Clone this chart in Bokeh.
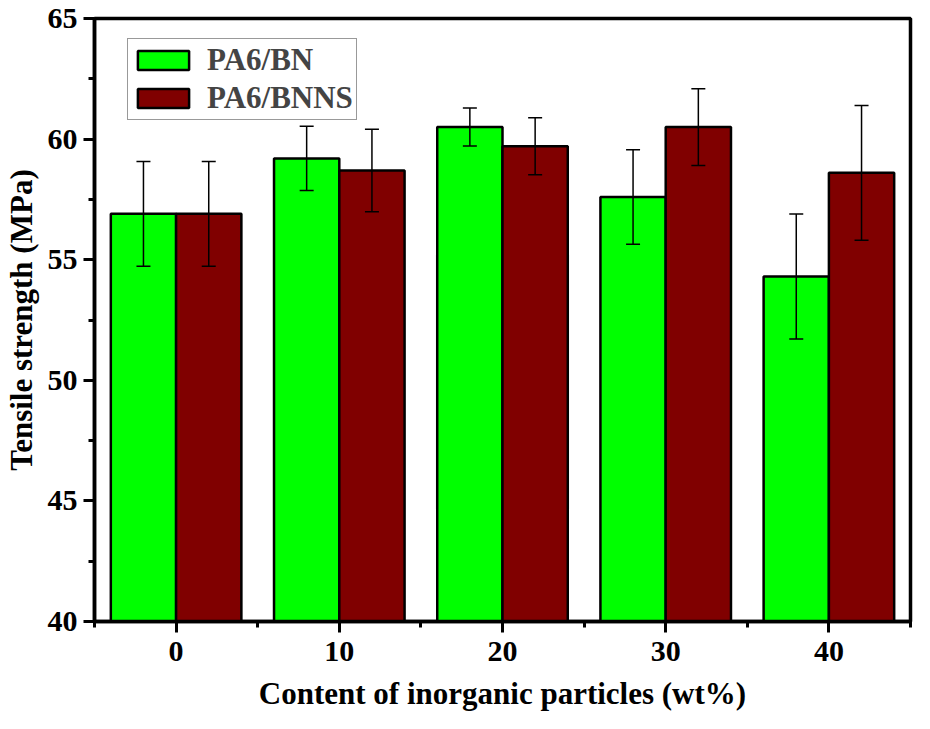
from bokeh.plotting import figure
from bokeh.models import ColumnDataSource, Range1d, FixedTicker, Whisker, TeeHead
from bokeh.embed import file_html
from bokeh.resources import INLINE

# Dados
content = [0, 10, 20, 30, 40]
bn = [56.9, 59.2, 60.5, 57.6, 54.3]
bn_err = [2.17, 1.33, 0.79, 1.96, 2.59]
bnns = [56.9, 58.7, 59.7, 60.5, 58.6]
bnns_err = [2.17, 1.71, 1.18, 1.59, 2.79]
y_ticks = [40, 45, 50, 55, 60, 65]

FONT = "Liberation Serif"
bar_w = 4

src_bn = ColumnDataSource(dict(
    x=[c - bar_w / 2 for c in content], y=bn,
    lo=[v - e for v, e in zip(bn, bn_err)], hi=[v + e for v, e in zip(bn, bn_err)]))
src_bnns = ColumnDataSource(dict(
    x=[c + bar_w / 2 for c in content], y=bnns,
    lo=[v - e for v, e in zip(bnns, bnns_err)], hi=[v + e for v, e in zip(bnns, bnns_err)]))

p = figure(width=914, height=713, x_range=Range1d(-5, 45), y_range=Range1d(40, 65),
           output_backend="svg", toolbar_location=None,
           x_axis_label="Content of inorganic particles (wt%)",
           y_axis_label="Tensile strength (MPa)")
p.min_border_top = 18
p.min_border_right = 4
p.min_border_left = 0
p.min_border_bottom = 0

p.vbar(x="x", top="y", bottom=40, width=bar_w, source=src_bn, fill_color="#00ff00",
       line_color="black", line_width=2.5, legend_label="PA6/BN")
p.vbar(x="x", top="y", bottom=40, width=bar_w, source=src_bnns, fill_color="#800000",
       line_color="black", line_width=2.5, legend_label="PA6/BNNS")

# barras de erro por cima das barras
for src in (src_bn, src_bnns):
    w = Whisker(base="x", upper="hi", lower="lo", source=src, line_color="black", line_width=1.5,
                upper_head=TeeHead(size=14, line_width=1.5, line_color="black"),
                lower_head=TeeHead(size=14, line_width=1.5, line_color="black"),
                level="overlay")
    p.add_layout(w)

p.xgrid.visible = False
p.ygrid.visible = False
p.outline_line_color = "black"
p.outline_line_width = 3.5
p.outline_line_alpha = 1

p.xaxis.ticker = FixedTicker(ticks=content, minor_ticks=[-5, 5, 15, 25, 35, 45])
p.yaxis.ticker = FixedTicker(ticks=y_ticks, minor_ticks=[42.5, 47.5, 52.5, 57.5, 62.5])

for ax in (p.xaxis[0], p.yaxis[0]):
    ax.axis_line_width = 3.5
    ax.axis_line_color = "black"
    ax.major_tick_line_width = 3
    ax.minor_tick_line_width = 3
    ax.major_tick_in = 0
    ax.major_tick_out = 11
    ax.minor_tick_in = 0
    ax.minor_tick_out = 6
    ax.major_label_text_font = FONT
    ax.major_label_text_font_style = "bold"
    ax.major_label_text_font_size = "30px"
    ax.major_label_text_color = "black"
    ax.axis_label_text_font = FONT
    ax.axis_label_text_font_style = "bold"
    ax.axis_label_text_font_size = "31px"
    ax.axis_label_text_color = "black"

p.xaxis.major_label_standoff = 9
p.xaxis.axis_label_standoff = 12
p.yaxis.major_label_standoff = 6
p.yaxis.axis_label_standoff = 6

p.legend.location = (33, 501)
p.legend.glyph_width = 64
p.legend.glyph_height = 24
p.legend.label_text_font = FONT
p.legend.label_text_font_style = "bold"
p.legend.label_text_font_size = "31px"
p.legend.label_standoff = 12
p.legend.padding = 3
p.legend.spacing = 2
p.legend.margin = 0
p.legend.border_line_color = "#333333"
p.legend.border_line_width = 1.5
p.legend.background_fill_alpha = 1

open("out.html", "w").write(file_html(p, INLINE))
